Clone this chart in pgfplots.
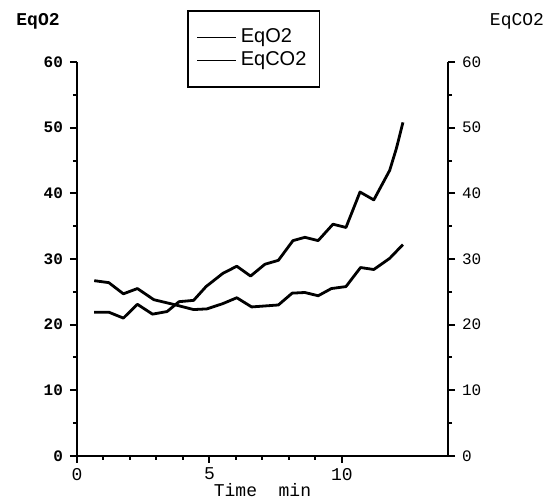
\documentclass[border=0pt]{standalone}
\usepackage{fontspec}
\setmonofont{Liberation Mono}
\setsansfont{Liberation Sans}
\usepackage{pgfplots}
\pgfplotsset{compat=1.18}

\begin{document}
\begin{tikzpicture}
\pgfplotsset{
  common/.style={
    scale only axis,
    width=185.5pt, height=197pt,
    xmin=0, xmax=14, ymin=0, ymax=60,
    ytick={0,10,...,60}, minor y tick num=1,
    tick align=outside,
    major tick length=3.5pt, minor tick length=2pt,
    every tick/.style={black, line width=1pt},
    axis line style={line width=1.3pt, -},
    /pgf/number format/assume math mode=true,
  }
}
% left axis, bottom axis, curves
\begin{axis}[
  common,
  clip=false,
  axis x line*=bottom, axis y line*=left,
  xtick={0,5,10}, minor x tick num=4,
  yticklabel style={font=\ttfamily\bfseries\fontsize{8}{9}\selectfont},
  xticklabel style={font=\ttfamily\fontsize{9}{10}\selectfont, yshift=1pt},
  xlabel={Time\ \ min},
  xlabel style={font=\ttfamily\fontsize{9}{10}\selectfont,
    at={(axis description cs:0.5,0)}, anchor=center, yshift=-17pt},
  legend style={at={(0.2965,1.132)}, anchor=north west, draw=black,
    line width=0.8pt, font=\sffamily\fontsize{10}{11}\selectfont,
    inner xsep=4.5pt, inner ysep=7pt, row sep=-1pt},
  legend cell align=left,
  legend image code/.code={\draw[line width=0.5pt] (0pt,0pt) -- (19.5pt,0pt);},
]
\addplot[black, line width=1.4pt, line join=round] coordinates {
  (0.65,21.9)(1.2,21.9)(1.75,21.0)(2.28,23.1)(2.85,21.6)(3.4,22.0)
  (3.85,23.5)(4.4,23.7)(4.87,25.8)(5.5,27.8)(6.03,28.9)(6.55,27.4)
  (7.09,29.2)(7.6,29.8)(8.15,32.8)(8.6,33.3)(9.1,32.8)(9.66,35.3)
  (10.15,34.8)(10.68,40.2)(11.2,39.0)(11.8,43.5)(12.05,46.8)(12.3,50.8)
};
\addlegendentry{EqO2}
\addplot[black, line width=1.4pt, line join=round] coordinates {
  (0.65,26.7)(1.2,26.4)(1.75,24.7)(2.28,25.5)(2.9,23.8)(3.63,23.1)
  (4.4,22.3)(4.9,22.4)(5.5,23.2)(6.03,24.1)(6.59,22.7)(7.6,23.0)
  (8.12,24.8)(8.6,24.9)(9.1,24.4)(9.6,25.5)(10.15,25.8)(10.7,28.7)
  (11.2,28.4)(11.8,30.1)(12.3,32.2)
};
\addlegendentry{EqCO2}
\node[font=\ttfamily\bfseries\fontsize{9}{10}\selectfont] at (rel axis cs:-0.105,1.104) {EqO2};
\node[font=\ttfamily\fontsize{9}{10}\selectfont] at (rel axis cs:1.186,1.104) {EqCO2};
\end{axis}
% right axis
\begin{axis}[
  common,
  axis x line=none, axis y line*=right,
  yticklabel style={font=\ttfamily\fontsize{8}{9}\selectfont},
]
\end{axis}
\pgfresetboundingbox
\path[use as bounding box] (-38.5pt,-21pt) rectangle (238.5pt,228pt);
\end{tikzpicture}
\end{document}
